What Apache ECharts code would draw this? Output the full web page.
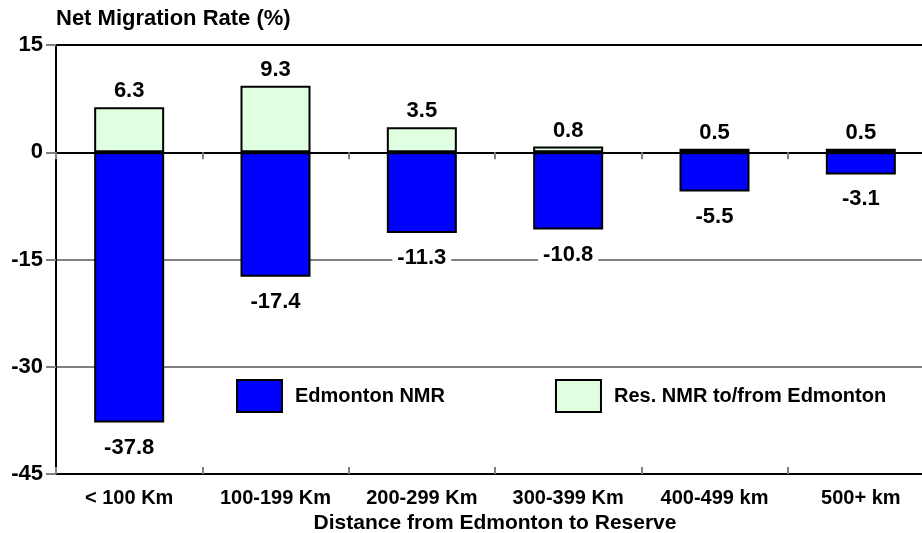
<!DOCTYPE html>
<html>
<head>
<meta charset="utf-8">
<script src="https://cdn.jsdelivr.net/npm/echarts@6/dist/echarts.min.js"></script>
<style>
html,body{margin:0;padding:0;background:#fff;}
#chart{width:922px;height:533px;}
</style>
</head>
<body>
<div id="chart"></div>
<script>
const categories = ['< 100 Km', '100-199 Km', '200-299 Km', '300-399 Km', '400-499 km', '500+ km'];
const edmontonNMR = [-37.8, -17.4, -11.3, -10.8, -5.5, -3.1];
const resNMR = [6.3, 9.3, 3.5, 0.8, 0.5, 0.5];
const yMin = -45, yMax = 15, yStep = 15;
const seriesNames = ['Edmonton NMR', 'Res. NMR to/from Edmonton'];
const yTitle = 'Net Migration Rate (%)';
const xTitle = 'Distance from Edmonton to Reserve';

const FONT = '"Liberation Sans", Arial, sans-serif';
const chart = echarts.init(document.getElementById('chart'), null, {renderer: 'canvas'});
const numLabel = {fontFamily: FONT, fontWeight: 'bold', fontSize: 22, color: '#000', lineHeight: 22};
const catLabel = {fontFamily: FONT, fontWeight: 'bold', fontSize: 20, color: '#000', lineHeight: 20};

chart.setOption({
  animation: false,
  backgroundColor: '#fff',
  title: {
    text: yTitle, left: 56, top: 8, padding: 0,
    textStyle: {fontFamily: FONT, fontWeight: 'bold', fontSize: 22, color: '#000'}
  },
  grid: {
    left: 56, right: -12, top: 45, bottom: 59,
    outerBoundsMode: 'none', containLabel: false,
    show: true, borderColor: '#000', borderWidth: 2, backgroundColor: 'transparent'
  },
  legend: {
    data: seriesNames,
    left: 236, top: 379, padding: 0,
    itemWidth: 45, itemHeight: 32, itemGap: 110,
    icon: 'rect',
    textStyle: {fontFamily: FONT, fontWeight: 'bold', fontSize: 20, color: '#000', padding: [0, 0, 0, 8]}
  },
  xAxis: [{
    type: 'category', data: categories, position: 'bottom',
    boundaryGap: true,
    axisLine: {show: true, lineStyle: {color: '#000', width: 2}},
    axisTick: {show: true, length: 7, lineStyle: {color: '#808080', width: 2}},
    axisLabel: Object.assign({margin: 14, interval: 0}, catLabel),
    name: xTitle, nameLocation: 'middle', nameGap: 34,
    nameTextStyle: {fontFamily: FONT, fontWeight: 'bold', fontSize: 21, color: '#000'}
  }, {
    type: 'category', data: categories, position: 'bottom',
    boundaryGap: true,
    axisLine: {show: false},
    axisTick: {show: true, inside: true, length: 7, lineStyle: {color: '#808080', width: 2}},
    axisLabel: {show: false}
  }],
  yAxis: {
    type: 'value', min: yMin, max: yMax, interval: yStep,
    axisLine: {show: true, lineStyle: {color: '#000', width: 2}},
    axisTick: {show: true, length: 10, lineStyle: {color: '#808080', width: 2}},
    axisLabel: Object.assign({margin: 13}, numLabel),
    splitLine: {show: true, showMinLine: false, showMaxLine: false, lineStyle: {color: '#808080', width: 2}}
  },
  series: [{
    name: seriesNames[0], type: 'bar', data: edmontonNMR, barWidth: 70, barGap: '-100%',
    itemStyle: {color: '#0000ff', borderColor: '#000', borderWidth: 2},
    label: Object.assign({
      show: true, position: 'bottom', distance: 14,
      backgroundColor: '#fff', padding: [0, 5]
    }, numLabel),
    z: 2
  }, {
    name: seriesNames[1], type: 'bar', data: resNMR, barWidth: 70, barGap: '-100%',
    itemStyle: {color: '#e0ffe0', borderColor: '#000', borderWidth: 2},
    label: Object.assign({show: true, position: 'top', distance: 5}, numLabel),
    z: 3
  }]
});
</script>
</body>
</html>
